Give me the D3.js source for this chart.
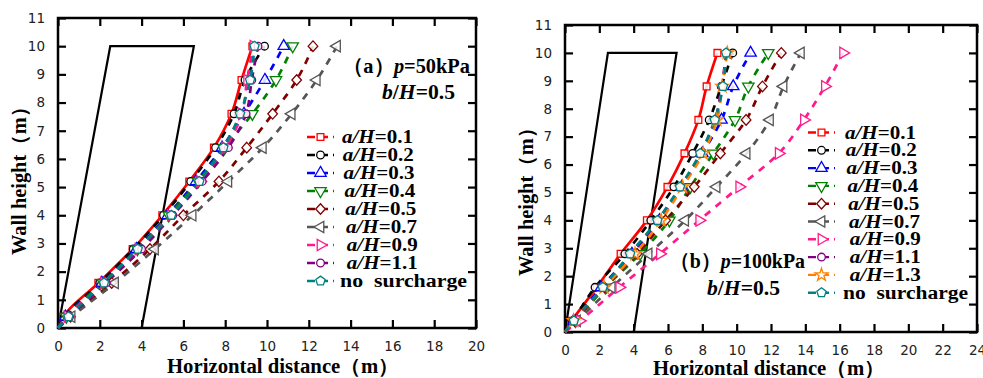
<!DOCTYPE html>
<html><head><meta charset="utf-8">
<script src="https://cdn.jsdelivr.net/npm/d3@7"></script>
<style>body{margin:0;background:#fff}svg{display:block}</style>
</head><body>
<svg id="c" width="983" height="378"></svg>
<script>
// ---------- DATA ----------
const heights = [0, 0.4, 1.6, 2.8, 4.0, 5.2, 6.4, 7.6, 8.8, 10.0];
const yTicks = [0,1,2,3,4,5,6,7,8,9,10,11];
const xTicksA = [0,2,4,6,8,10,12,14,16,18,20];
const xTicksB = [0,2,4,6,8,10,12,14,16,18,20,22,24];
const wallX = [0, 2.5, 6.5, 4.0];
const wallY = [0, 10, 10, 0];

const labelsA = ["a/H=0.1","a/H=0.2","a/H=0.3","a/H=0.4","a/H=0.5","a/H=0.7","a/H=0.9","a/H=1.1","no  surcharge"];
const labelsB = ["a/H=0.1","a/H=0.2","a/H=0.3","a/H=0.4","a/H=0.5","a/H=0.7","a/H=0.9","a/H=1.1","a/H=1.3","no  surcharge"];

// panel (a) p=50kPa
const a_01 = [0, 0.25, 1.93, 3.57, 4.99, 6.28, 7.46, 8.30, 8.78, 9.30];
const a_02 = [0, 0.30, 2.00, 3.60, 5.05, 6.35, 7.54, 8.42, 8.95, 9.88];
const a_03 = [0, 0.35, 2.10, 3.75, 5.25, 6.60, 7.85, 8.90, 9.90, 10.80];
const a_04 = [0, 0.40, 2.15, 3.80, 5.30, 6.70, 7.95, 9.30, 10.43, 11.23];
const a_05 = [0, 0.60, 2.57, 4.40, 6.00, 7.70, 9.03, 10.27, 11.42, 12.20];
const a_07 = [0, 0.65, 2.73, 4.64, 6.44, 8.15, 9.80, 11.18, 12.38, 13.35];
const a_09 = [0, 0.45, 2.20, 3.85, 5.40, 6.80, 8.00, 8.80, 9.05, 9.35];
const a_11 = [0, 0.55, 2.30, 4.00, 5.49, 6.90, 8.15, 9.00, 9.27, 9.57];
const a_ns = [0, 0.50, 2.20, 3.81, 5.42, 6.76, 7.91, 8.71, 9.19, 9.40];

// panel (b) p=100kPa
const b_01 = [0, 0.40, 1.85, 3.24, 4.77, 5.97, 6.96, 7.77, 8.25, 8.88];
const b_02 = [0, 0.45, 1.75, 3.49, 5.00, 6.34, 7.44, 8.40, 9.10, 9.77];
const b_03 = [0, 0.50, 2.10, 3.90, 5.50, 6.80, 8.00, 9.12, 9.80, 10.81];
const b_04 = [0, 0.60, 2.35, 4.37, 6.08, 7.30, 8.64, 9.90, 10.68, 11.84];
const b_05 = [0, 0.55, 2.30, 4.20, 5.86, 7.53, 9.05, 10.55, 11.50, 12.60];
const b_07 = [0, 0.70, 2.72, 4.87, 7.00, 8.83, 10.58, 11.94, 12.73, 13.74];
const b_09 = [0, 0.85, 3.16, 5.53, 7.82, 10.15, 12.45, 13.92, 15.14, 16.20];
const b_11 = [0, 0.50, 2.25, 3.85, 5.45, 6.75, 7.90, 8.75, 9.12, 9.40];
const b_13 = [0, 0.50, 2.28, 4.08, 5.60, 6.85, 8.05, 8.85, 9.15, 9.45];
const b_ns = [0, 0.52, 2.20, 3.79, 5.38, 6.70, 7.88, 8.72, 9.20, 9.38];

// ---------- STYLES ----------
const styles = {
  "a/H=0.1": {color:"#ff0000", sym:"square", solid:true},
  "a/H=0.2": {color:"#000000", sym:"circle"},
  "a/H=0.3": {color:"#0000ff", sym:"triUp"},
  "a/H=0.4": {color:"#008000", sym:"triDown"},
  "a/H=0.5": {color:"#800000", sym:"diamond"},
  "a/H=0.7": {color:"#555555", sym:"triLeft"},
  "a/H=0.9": {color:"#ff1a8c", sym:"triRight"},
  "a/H=1.1": {color:"#800080", sym:"circle"},
  "a/H=1.3": {color:"#ff8000", sym:"star"},
  "no  surcharge": {color:"#008080", sym:"pentagon"}
};

function markerPath(sym){
  switch(sym){
    case "square": return d3.symbol(d3.symbolSquare, 46)();
    case "circle": return d3.symbol(d3.symbolCircle, 46)();
    case "triUp": case "triDown": case "triLeft": case "triRight":
      return d3.symbol(d3.symbolTriangle, 56)();
    case "diamond": return "M0,-5.3L4.8,0L0,5.3L-4.8,0Z";
    case "star": return d3.symbol(d3.symbolStar, 50)();
    case "pentagon": {
      const r = 4.9, p = [];
      for (let k=0;k<5;k++){const a=-Math.PI/2+k*2*Math.PI/5;p.push([r*Math.cos(a),r*Math.sin(a)]);}
      return "M"+p.map(d=>d.join(",")).join("L")+"Z";
    }
  }
}
function markerRot(sym){
  return {triDown:180, triLeft:-90, triRight:90}[sym] || 0;
}

const svg = d3.select("#c");
const serif = "'Liberation Serif','Times New Roman',serif";
const sans = "'DejaVu Sans',Verdana,sans-serif";

function drawPanel(cfg){
  const g = svg.append("g");
  const x = d3.scaleLinear().domain([0, cfg.xMax]).range([cfg.x0, cfg.x1]);
  const y = d3.scaleLinear().domain([0, 11]).range([cfg.y1, cfg.y0]);

  // axes with inward ticks
  const L = g.append("g").attr("transform",`translate(${cfg.x0},0)`)
    .call(d3.axisLeft(y).tickValues(yTicks).tickSizeInner(-8).tickSizeOuter(0).tickPadding(13).tickFormat(d3.format("d")));
  const B = g.append("g").attr("transform",`translate(0,${cfg.y1})`)
    .call(d3.axisBottom(x).tickValues(cfg.xTicks).tickSizeInner(-8).tickSizeOuter(0).tickPadding(13).tickFormat(d3.format("d")));
  const T = g.append("g").attr("transform",`translate(0,${cfg.y0})`)
    .call(d3.axisTop(x).tickValues(cfg.xTicks).tickSizeInner(-8).tickSizeOuter(0).tickFormat(""));
  const R = g.append("g").attr("transform",`translate(${cfg.x1},0)`)
    .call(d3.axisRight(y).tickValues(yTicks).tickSizeInner(-8).tickSizeOuter(0).tickFormat(""));
  [L,B,T,R].forEach(a=>{
    a.select(".domain").remove();
    a.selectAll(".tick line").attr("stroke","#000").attr("stroke-width",2.2);
    a.selectAll(".tick text").attr("font-family",sans).attr("font-size",13.5).attr("fill","#222");
  });

  // frame
  g.append("rect").attr("x",cfg.x0).attr("y",cfg.y0)
    .attr("width",cfg.x1-cfg.x0).attr("height",cfg.y1-cfg.y0)
    .attr("fill","none").attr("stroke","#000").attr("stroke-width",2.5);

  // wall outline
  const wall = wallX.map((v,i)=>[x(v), y(wallY[i])]);
  g.append("path").attr("d", d3.line()(wall))
    .attr("fill","none").attr("stroke","#000").attr("stroke-width",2.2);

  const line = d3.line().x(d=>x(d[0])).y(d=>y(d[1])).curve(d3.curveMonotoneY);

  // series lines
  cfg.series.forEach((vals,i)=>{
    const st = styles[cfg.labels[i]];
    const pts = vals.map((v,j)=>[v, heights[j]]);
    g.append("path").attr("d", line(pts)).attr("fill","none")
      .attr("stroke", st.color).attr("stroke-width", 2.7)
      .attr("stroke-dasharray", st.solid ? null : "7,7");
  });
  // markers
  cfg.series.forEach((vals,i)=>{
    const st = styles[cfg.labels[i]];
    const pts = vals.map((v,j)=>[v, heights[j]]).filter(d=>d[1]>0);
    g.selectAll(null).data(pts).enter().append("path")
      .attr("d", markerPath(st.sym))
      .attr("transform", d=>`translate(${x(d[0])},${y(d[1])}) rotate(${markerRot(st.sym)})`)
      .attr("fill","#fff").attr("fill-opacity",0.85).attr("stroke", st.color).attr("stroke-width",1.3);
  });

  // legend
  cfg.labels.forEach((lab,i)=>{
    const st = styles[lab];
    const cy = cfg.legY + i*cfg.legStep;
    g.append("line").attr("x1",cfg.legX0).attr("x2",cfg.legX1).attr("y1",cy).attr("y2",cy)
      .attr("stroke",st.color).attr("stroke-width",2.4).attr("stroke-dasharray","8,5");
    const mx = (cfg.legX0+cfg.legX1)/2;
    g.append("path").attr("d",markerPath(st.sym))
      .attr("transform",`translate(${mx},${cy}) rotate(${markerRot(st.sym)})`)
      .attr("fill","#fff").attr("stroke",st.color).attr("stroke-width",1.3);
    const isA = lab.startsWith("a/H");
    const t = g.append("text").attr("x",cfg.legTx + (isA ? Math.min(i,6)*0.8 : -2)).attr("y",cy+6)
      .attr("font-family",serif).attr("font-weight","bold").attr("font-size",18.5)
      .attr("textLength", isA ? 71 : cfg.nsLen).attr("lengthAdjust","spacingAndGlyphs")
      .style("white-space","pre");
    if (isA){
      t.append("tspan").attr("font-style","italic").text("a/H");
      t.append("tspan").text(lab.slice(3));
    } else t.text(lab);
  });

  // titles
  const t1 = g.append("text").attr("x",cfg.t1x).attr("y",cfg.t1y)
    .attr("font-family",serif).attr("font-weight","bold").attr("font-size",21)
    .attr("textLength",cfg.t1len).attr("lengthAdjust","spacingAndGlyphs");
  t1.append("tspan").text(cfg.tag);
  t1.append("tspan").attr("font-style","italic").text("p");
  t1.append("tspan").text(cfg.pText);
  const t2 = g.append("text").attr("x",cfg.t2x).attr("y",cfg.t2y)
    .attr("font-family",serif).attr("font-weight","bold").attr("font-size",21)
    .attr("textLength",73).attr("lengthAdjust","spacingAndGlyphs");
  t2.append("tspan").attr("font-style","italic").text("b");
  t2.append("tspan").text("/");
  t2.append("tspan").attr("font-style","italic").text("H");
  t2.append("tspan").text("=0.5");

  // axis titles
  g.append("text").attr("transform",`translate(${cfg.ylx},${cfg.yly}) rotate(-90)`)
    .attr("text-anchor","middle").attr("dy","0.35em")
    .attr("font-family",serif).attr("font-weight","bold").attr("font-size",20)
    .attr("textLength",158).attr("lengthAdjust","spacingAndGlyphs")
    .text("Wall height（m）");
  g.append("text").attr("x",cfg.xlx).attr("y",cfg.xly).attr("text-anchor","middle")
    .attr("font-family",serif).attr("font-weight","bold").attr("font-size",20)
    .attr("textLength",232).attr("lengthAdjust","spacingAndGlyphs")
    .text("Horizontal distance（m）");
}

drawPanel({
  x0:58, x1:476, y0:18, y1:328, xMax:20, xTicks:xTicksA,
  labels:labelsA, series:[a_01,a_02,a_03,a_04,a_05,a_07,a_09,a_11,a_ns],
  legX0:307, legX1:334, legTx:342, legY:137, legStep:18, nsLen:127,
  tag:"（a）", pText:"=50kPa", t1x:343, t1y:73, t1len:127, t2x:382, t2y:99,
  ylx:19, yly:176, xlx:283, xly:373
});
drawPanel({
  x0:565, x1:977, y0:25, y1:332, xMax:24, xTicks:xTicksB,
  labels:labelsB, series:[b_01,b_02,b_03,b_04,b_05,b_07,b_09,b_11,b_13,b_ns],
  legX0:808, legX1:835, legTx:845, legY:132.5, legStep:17.8, nsLen:125,
  tag:"（b）", pText:"=100kPa", t1x:670, t1y:268, t1len:135, t2x:707, t2y:295,
  ylx:526, yly:197, xlx:769, xly:375
});
</script>
</body></html>
